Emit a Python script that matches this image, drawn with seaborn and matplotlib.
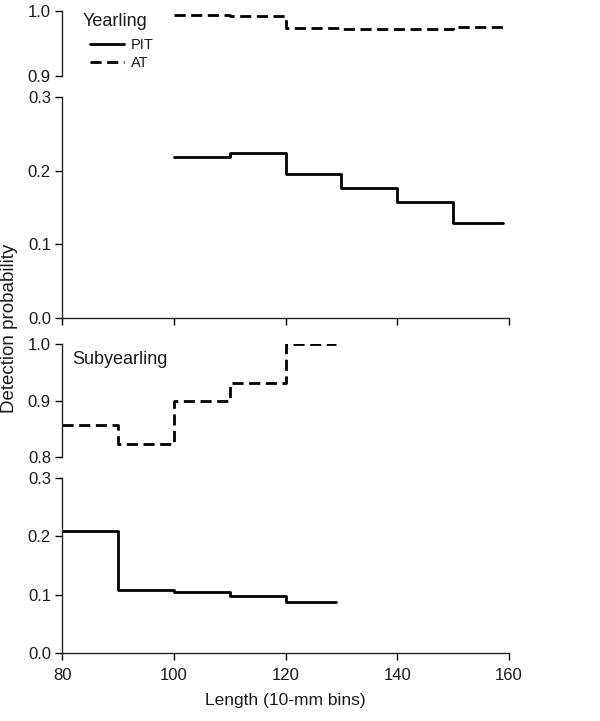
import matplotlib
matplotlib.use("Agg")
import matplotlib.pyplot as plt
import seaborn as sns
import pandas as pd
from matplotlib.lines import Line2D

sns.set_style("ticks")
plt.rcParams['font.family'] = ['Liberation Sans', 'DejaVu Sans']

# Data (bin edges and step values)
yr_edges = [100, 110, 120, 130, 140, 150, 159]
yr_at = [0.994, 0.993, 0.974, 0.972, 0.973, 0.976]
yr_pit = [0.218, 0.224, 0.196, 0.177, 0.158, 0.129]

sy_edges = [80, 90, 100, 110, 120, 129]
sy_at = [0.857, 0.823, 0.900, 0.931, 1.000]
sy_pit = [0.210, 0.108, 0.104, 0.097, 0.087]

x_ticks = [80, 100, 120, 140, 160]


def step_df(edges, vals):
    return pd.DataFrame({"x": edges, "y": list(vals) + [vals[-1]]})


TXT = "#1a1a1a"
fig = plt.figure(figsize=(6, 7.21), dpi=100)
L, W = 62 / 600, 447 / 600


def add_ax(top_px, bot_px):
    return fig.add_axes([L, 1 - bot_px / 721, W, (bot_px - top_px) / 721])


ax1 = add_ax(11, 76)
ax2 = add_ax(97, 318)
ax3 = add_ax(344, 457)
ax4 = add_ax(478, 653)

dash = (4, 2)
lw = 2

sns.lineplot(data=step_df(yr_edges, yr_at), x="x", y="y", ax=ax1, color="black",
             lw=lw, drawstyle="steps-post", linestyle=(0, dash))
sns.lineplot(data=step_df(yr_edges, yr_pit), x="x", y="y", ax=ax2, color="black",
             lw=lw, drawstyle="steps-post")
sns.lineplot(data=step_df(sy_edges, sy_at), x="x", y="y", ax=ax3, color="black",
             lw=lw, drawstyle="steps-post", linestyle=(0, dash))
sns.lineplot(data=step_df(sy_edges, sy_pit), x="x", y="y", ax=ax4, color="black",
             lw=lw, drawstyle="steps-post")

lims = [(0.9, 1.0), (0.0, 0.3), (0.8, 1.0), (0.0, 0.3)]
yt = [[0.9, 1.0], [0.0, 0.1, 0.2, 0.3], [0.8, 0.9, 1.0], [0.0, 0.1, 0.2, 0.3]]
for ax, lim, t in zip([ax1, ax2, ax3, ax4], lims, yt):
    ax.set_xlim(80, 160)
    ax.set_ylim(*lim)
    ax.set_yticks(t)
    ax.set_yticklabels([f"{v:.1f}" for v in t])
    ax.set_xlabel("")
    ax.set_ylabel("")
    ax.spines['top'].set_visible(False)
    ax.spines['right'].set_visible(False)
    ax.spines['left'].set_linewidth(1)
    ax.spines['bottom'].set_linewidth(1)
    ax.tick_params(axis='both', direction='out', length=5, width=1,
                   labelsize=12, colors='black', labelcolor=TXT, pad=3)
    ax.patch.set_alpha(0)

for ax in [ax1, ax3]:
    ax.spines['bottom'].set_visible(False)
    ax.set_xticks([])
for ax in [ax2, ax4]:
    ax.set_xticks(x_ticks)
ax2.set_xticklabels([])
ax4.set_xticklabels([str(v) for v in x_ticks])
ax4.tick_params(axis='x', pad=6)

fig.text(83 / 600, 1 - 22 / 721, "Yearling", fontsize=13, va='center',
         ha='left', color=TXT)
handles = [Line2D([], [], color='black', lw=lw),
           Line2D([], [], color='black', lw=lw, linestyle=(0, dash))]
fig.legend(handles, ["PIT", "AT"], loc='upper left',
           bbox_to_anchor=(77 / 600, 1 - 25 / 721), frameon=False,
           fontsize=10.5, handlelength=2.3, handletextpad=0.5, labelspacing=0.25,
           labelcolor=TXT)

fig.text(72 / 600, 1 - 359 / 721, "Subyearling", fontsize=13, va='center',
         ha='left', color=TXT)

fig.text(10 / 600, 1 - 328 / 721, "Detection probability", rotation=90,
         fontsize=13.5, va='center', ha='center', color=TXT)
fig.text(285 / 600, 1 - 700 / 721, "Length (10-mm bins)", fontsize=12.5,
         va='center', ha='center', color=TXT)

fig.savefig("out.png", dpi=100)
